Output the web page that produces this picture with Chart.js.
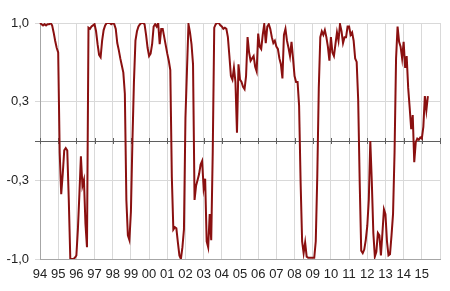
<!DOCTYPE html>
<html>
<head>
<meta charset="utf-8">
<script src="https://cdn.jsdelivr.net/npm/chart.js@4.4.1/dist/chart.umd.min.js"></script>
<style>
  html, body { margin: 0; padding: 0; background: #fff; }
  #wrap { width: 450px; height: 291px; }
</style>
</head>
<body>
<div id="wrap"><canvas id="chart"></canvas></div>
<script>
// monthly values, Jan 1994 .. May 2015
const y1994 = [1.0, 0.99, 0.98, 0.99, 0.98, 0.99, 0.99, 1.0, 0.98, 0.92, 0.85, 0.79];
const y1995 = [0.75, -0.1, -0.45, -0.28, -0.08, -0.06, -0.08, -0.5, -1.0, -1.0, -1.0, -0.99];
const y1996 = [-0.97, -0.75, -0.45, -0.13, -0.38, -0.33, -0.7, -0.9, 0.96, 0.95, 0.97, 0.98];
const y1997 = [0.99, 0.93, 0.82, 0.73, 0.71, 0.85, 0.94, 0.98, 1.0, 1.0, 1.0, 0.99];
const y1998 = [1.0, 0.99, 0.95, 0.83, 0.77, 0.70, 0.64, 0.58, 0.4, -0.5, -0.80, -0.84];
const y1999 = [-0.6, 0.0, 0.5, 0.85, 0.93, 0.97, 0.99, 1.0, 1.0, 0.99, 0.9, 0.79];
const y2000 = [0.72, 0.74, 0.82, 0.97, 0.99, 0.97, 1.0, 0.82, 0.95, 0.95, 0.88, 0.81];
const y2001 = [0.74, 0.68, 0.60, -0.3, -0.75, -0.73, -0.74, -0.86, -0.97, -1.0, -0.9, -0.75];
const y2002 = [0.2, 0.6, 0.99, 0.92, 0.82, 0.65, -0.5, -0.38, -0.33, -0.28, -0.2, -0.17];
const y2003 = [-0.40, -0.32, -0.85, -0.90, -0.62, -0.84, -0.1, 0.96, 0.99, 1.0, 1.0, 0.98];
const y2004 = [0.97, 0.95, 0.96, 0.95, 0.88, 0.72, 0.55, 0.52, 0.62, 0.5, 0.07, 0.65];
const y2005 = [0.52, 0.50, 0.46, 0.44, 0.55, 0.88, 0.75, 0.68, 0.70, 0.72, 0.63, 0.59];
const y2006 = [0.91, 0.80, 0.78, 0.90, 0.99, 0.83, 0.97, 0.99, 0.95, 0.88, 0.83, 0.85];
const y2007 = [0.80, 0.78, 0.70, 0.65, 0.53, 0.9, 0.95, 0.85, 0.79, 0.72, 0.84, 0.70];
const y2008 = [0.55, 0.50, 0.50, 0.30, -0.35, -0.85, -0.95, -0.86, -0.98, -0.99, -0.99, -0.99];
const y2009 = [-0.99, -0.99, -0.85, -0.3, 0.45, 0.88, 0.93, 0.90, 0.94, 0.88, 0.80, 0.68];
const y2010 = [0.88, 0.75, 0.72, 0.82, 0.92, 0.85, 0.99, 0.93, 0.83, 0.88, 0.88, 0.97];
const y2011 = [0.97, 0.90, 0.92, 0.85, 0.70, 0.67, 0.35, -0.35, -0.93, -0.95, -0.92, -0.84];
const y2012 = [-0.72, -0.5, 0.0, -0.35, -0.78, -0.98, -0.94, -0.78, -0.80, -0.97, -0.78, -0.58];
const y2013 = [-0.62, -0.85, -0.97, -0.96, -0.80, -0.62, -0.1, 0.7, 0.97, 0.84, 0.80, 0.70];
const y2014 = [0.84, 0.62, 0.72, 0.45, 0.28, 0.10, 0.22, -0.18, -0.01, 0.02, 0.01, 0.03];
const y2015 = [0.02, 0.12, 0.38, 0.26, 0.38];

const values = [].concat(y1994, y1995, y1996, y1997, y1998, y1999, y2000, y2001,
    y2002, y2003, y2004, y2005, y2006, y2007, y2008, y2009, y2010, y2011,
    y2012, y2013, y2014, y2015);

// axis runs Jan 1994 .. Jan 2016
const firstYear = 1994;
const lastYear = 2016;
const months = [];
for (let y = firstYear; y <= lastYear; y++) {
    for (let m = 1; m <= 12; m++) {
        if (y === lastYear && m > 1) break;
        months.push(y + '-' + String(m).padStart(2, '0'));
    }
}

const yTicks = [-1, -1 / 3, 0, 1 / 3, 1];

const lineColor = '#8a1010';
const gridColor = '#d9d9d9';
const zeroColor = '#5f5f5f';

// small tick marks across the zero line, one per year
const zeroTicks = {
    id: 'zeroTicks',
    beforeDatasetsDraw(chart) {
        const xs = chart.scales.x, ys = chart.scales.y;
        const y0 = ys.getPixelForValue(0);
        const ctx = chart.ctx;
        ctx.save();
        ctx.strokeStyle = zeroColor;
        ctx.lineWidth = 1;
        months.forEach((m, i) => {
            if (m.slice(5) !== '01') return;
            const x = Math.round(xs.getPixelForValue(i)) + 0.5;
            ctx.beginPath();
            ctx.moveTo(x, y0 - 3);
            ctx.lineTo(x, y0 + 3);
            ctx.stroke();
        });
        ctx.restore();
    }
};

new Chart(document.getElementById('chart'), {
    type: 'line',
    data: {
        labels: months,
        datasets: [{
            data: values,
            borderColor: lineColor,
            borderWidth: 2,
            pointRadius: 0,
            tension: 0,
            fill: false
        }]
    },
    options: {
        responsive: true,
        maintainAspectRatio: false,
        animation: false,
        layout: {
            padding: { top: 23, right: 10, left: 0, bottom: 0 }
        },
        plugins: {
            legend: { display: false },
            tooltip: { enabled: false }
        },
        scales: {
            x: {
                offset: false,
                grid: {
                    color: gridColor,
                    drawTicks: false
                },
                border: { color: '#a6a6a6' },
                ticks: {
                    autoSkip: false,
                    maxRotation: 0,
                    padding: 8,
                    color: '#222',
                    font: { family: 'Liberation Sans, Arial, sans-serif', size: 13 },
                    callback: function(value) {
                        const lab = this.getLabelForValue(value);
                        if (lab.slice(5) !== '01') return null;
                        const yr = +lab.slice(0, 4);
                        if (yr === lastYear) return '';
                        return lab.slice(2, 4);
                    }
                },
                afterFit: function(scale) { scale.height = 32; }
            },
            y: {
                min: -1,
                max: 1,
                afterBuildTicks: function(scale) {
                    scale.ticks = yTicks.map(v => ({ value: v }));
                },
                grid: {
                    color: ctx => (ctx.tick && Math.abs(ctx.tick.value) < 1e-9) ? zeroColor : gridColor,
                    tickLength: 5
                },
                border: { color: '#a6a6a6' },
                ticks: {
                    padding: 6,
                    color: '#222',
                    font: { family: 'Liberation Sans, Arial, sans-serif', size: 13 },
                    callback: function(value) {
                        if (Math.abs(value) < 1e-9) return '';
                        return value.toFixed(1).replace('.', ',');
                    }
                },
                afterFit: function(scale) { scale.width = 40; }
            }
        }
    },
    plugins: [zeroTicks]
});
</script>
</body>
</html>
